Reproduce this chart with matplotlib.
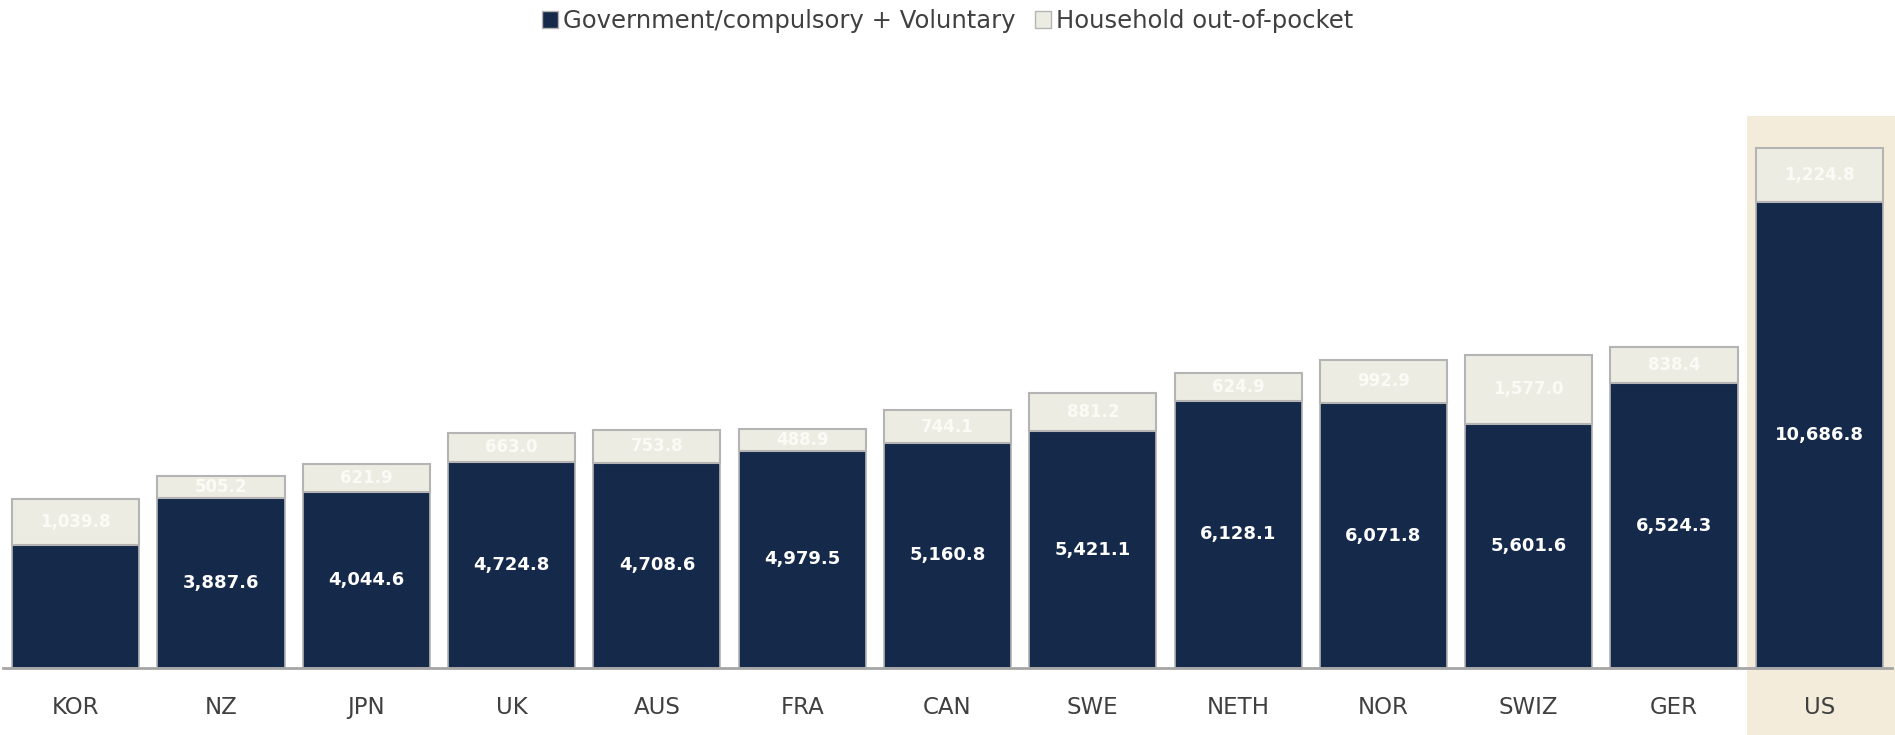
import matplotlib.pyplot as plt
import matplotlib.transforms as mtransforms
from matplotlib.patches import Rectangle, Patch

# Data
countries = ["KOR", "NZ", "JPN", "UK", "AUS", "FRA", "CAN",
             "SWE", "NETH", "NOR", "SWIZ", "GER", "US"]
gov_voluntary = [2824.0, 3887.6, 4044.6, 4724.8, 4708.6, 4979.5, 5160.8,
                 5421.1, 6128.1, 6071.8, 5601.6, 6524.3, 10686.8]
out_of_pocket = [1039.8, 505.2, 621.9, 663.0, 753.8, 488.9, 744.1,
                 881.2, 624.9, 992.9, 1577.0, 838.4, 1224.8]
no_label = ["KOR"]          # dark label is not shown for this one
highlight = "US"

DARK = "#15294a"
LIGHT = "#edece3"
EDGE = "#b4b4b4"
HILITE = "#f4ecda"

fig = plt.figure(figsize=(18.95, 7.35), dpi=100)
ax = fig.add_axes([3 / 1895, 67 / 735, 1889 / 1895, 552 / 735])
ax.set_zorder(2)

x = range(len(countries))
ax.set_xlim(-0.5, len(countries) - 0.5)
ax.set_ylim(0, 12650)

# highlight column behind the US bar, running down into the label area
hi = countries.index(highlight)
trans = mtransforms.blended_transform_factory(ax.transData, fig.transFigure)
fig.patches.append(Rectangle((hi - 0.5, 0), 1.2, 1 - 116 / 735, transform=trans,
                             facecolor=HILITE, edgecolor="none", zorder=0))
ax.set_facecolor("none")

ax.bar(x, gov_voluntary, width=0.875, color=DARK, edgecolor=EDGE,
       linewidth=1.2, zorder=2)
ax.bar(x, out_of_pocket, width=0.875, bottom=gov_voluntary, color=LIGHT,
       edgecolor=EDGE, linewidth=1.5, zorder=2)

for i, c in enumerate(countries):
    g = gov_voluntary[i]
    o = out_of_pocket[i]
    if c not in no_label:
        ax.text(i, g / 2, f"{g:,.1f}", ha="center", va="center", color="white",
                fontsize=13, fontweight="bold", zorder=3)
    ax.text(i, g + o / 2, f"{o:,.1f}", ha="center", va="center", color="#fbfaf5",
            fontsize=12, fontweight="bold", zorder=3)

ax.set_xticks(list(x))
ax.set_xticklabels(countries, fontsize=16.5, color="#404040")
ax.tick_params(axis="x", length=0, pad=20)
ax.set_yticks([])
for s in ["top", "left", "right"]:
    ax.spines[s].set_visible(False)
ax.spines["bottom"].set_color("#a6a6a6")
ax.spines["bottom"].set_linewidth(2)
ax.spines["bottom"].set_zorder(4)

handles = [Patch(facecolor=DARK, edgecolor=EDGE),
           Patch(facecolor=LIGHT, edgecolor=EDGE)]
fig.legend(handles, ["Government/compulsory + Voluntary", "Household out-of-pocket"],
           loc="center", bbox_to_anchor=(0.5, 1 - 21 / 735), ncol=2, frameon=False,
           fontsize=17.5, handlelength=0.65, handleheight=0.65, handletextpad=0.2,
           columnspacing=0.8, labelcolor="#404040")

fig.savefig("out.png", dpi=100)
